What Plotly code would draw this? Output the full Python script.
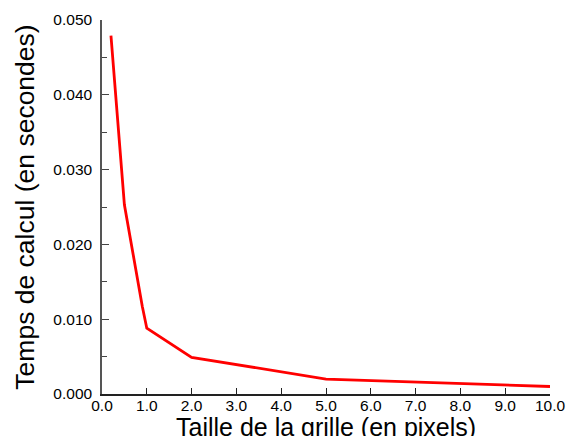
import plotly.graph_objects as go

grid_size = [0.2, 0.5, 0.9, 1.0, 2.0, 5.0, 10.0]
calc_time = [0.0479, 0.0253, 0.0117, 0.0088, 0.0049, 0.0020, 0.0010]
x_ticks = [0, 1, 2, 3, 4, 5, 6, 7, 8, 9, 10]
x_labels = ["0.0", "1.0", "2.0", "3.0", "4.0", "5.0", "6.0", "7.0", "8.0", "9.0", "10.0"]
y_ticks = [0.0, 0.01, 0.02, 0.03, 0.04, 0.05]
y_labels = ["0.000", "0.010", "0.020", "0.030", "0.040", "0.050"]

fig = go.Figure()
fig.add_trace(go.Scatter(x=grid_size, y=calc_time, mode="lines",
                         line=dict(color="#ff0000", width=2.8)))

font_family = "Liberation Sans, Arial, sans-serif"
fig.update_layout(
    width=566, height=436,
    margin=dict(l=102, r=16, t=20, b=42),
    paper_bgcolor="white", plot_bgcolor="white",
    showlegend=False,
    font=dict(family=font_family, color="black", size=15.5),
    xaxis=dict(
        range=[0, 10], tickvals=x_ticks, ticktext=x_labels,
        showgrid=False, zeroline=False, automargin=False,
        showline=True, linecolor="#222", linewidth=1.5,
        ticks="inside", ticklen=6, tickcolor="#222", tickwidth=1,
        tickfont=dict(size=15.5),
        ticklabelstandoff=-3,
    ),
    yaxis=dict(
        range=[0, 0.05], tickvals=y_ticks, ticktext=y_labels,
        showgrid=False, zeroline=False, automargin=False,
        showline=True, linecolor="#555", linewidth=1.5,
        ticks="inside", ticklen=7, tickcolor="#444", tickwidth=1,
        tickfont=dict(size=15.5),
        ticklabelstandoff=5,
        minor=dict(dtick=0.005, ticks="inside", ticklen=5, tickcolor="#444", showgrid=False),
        title=dict(text="Temps de calcul (en secondes)",
                   font=dict(size=26.5), standoff=11),
    ),
    annotations=[dict(
        text="Taille de la grille (en pixels)", xref="paper", yref="paper",
        x=0.5, y=0, xanchor="center", yanchor="middle", yshift=-33,
        showarrow=False, font=dict(size=25),
    )],
)
fig.write_html("out.html", config={"displayModeBar": False},
               post_script="document.body.style.margin='0';document.body.style.overflow='hidden';")
